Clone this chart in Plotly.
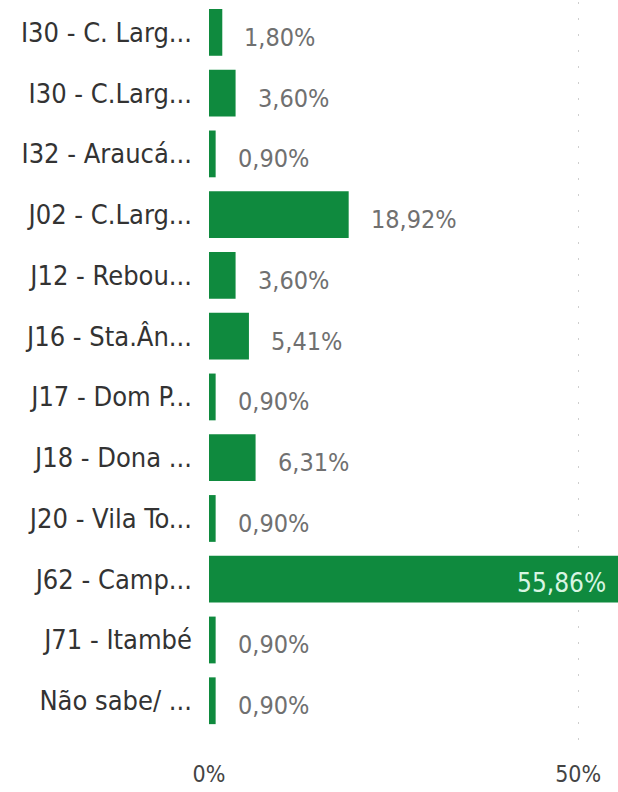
import plotly.graph_objects as go

categories = ["I30 - C. Larg...", "I30 - C.Larg...", "I32 - Araucá...", "J02 - C.Larg...",
              "J12 - Rebou...", "J16 - Sta.Ân...", "J17 - Dom P...", "J18 - Dona ...",
              "J20 - Vila To...", "J62 - Camp...", "J71 - Itambé", "Não sabe/ ..."]
values = [1.80, 3.60, 0.90, 18.92, 3.60, 5.41, 0.90, 6.31, 0.90, 55.86, 0.90, 0.90]
tick_vals = [0, 50]
tick_text = ["0%", "50%"]

FONT = "Liberation Sans Narrow, DejaVu Sans Condensed, Arial Narrow, sans-serif"
GREEN = "#0f8a3e"
XMAX = 55.4

def fmt(v):
    return f"{v:.2f}".replace(".", ",") + "%"

fig = go.Figure(go.Bar(
    y=categories, x=values, orientation="h",
    marker=dict(color=GREEN, line=dict(width=0)),
    hoverinfo="skip",
))

annotations = []
vmax = max(values)
for c, v in zip(categories, values):
    if v == vmax:
        annotations.append(dict(x=min(v, XMAX), y=c, xref="x", yref="y", text=fmt(v),
                                showarrow=False, xanchor="right", xshift=-10, yshift=-4,
                                font=dict(family=FONT, size=26, color="#d8f5e2")))
    else:
        annotations.append(dict(x=v, y=c, xref="x", yref="y", text=fmt(v),
                                showarrow=False, xanchor="left", xshift=20, yshift=-5,
                                font=dict(family=FONT, size=25, color="#707070")))

n = len(categories)
fig.update_layout(
    width=618, height=792,
    margin=dict(l=209, r=0, t=2, b=39),
    paper_bgcolor="white", plot_bgcolor="white",
    bargap=0.23,
    showlegend=False,
    annotations=annotations,
    font=dict(family=FONT),
    xaxis=dict(range=[0, XMAX], tickvals=tick_vals, ticktext=tick_text,
               automargin=False, ticklabelstandoff=5,
               showgrid=True, gridcolor="#cfcfcf", griddash="2px,14px", gridwidth=1,
               zeroline=False, showline=False, ticks="",
               tickfont=dict(family=FONT, size=23, color="#444444")),
    yaxis=dict(categoryorder="array", categoryarray=categories,
               range=[n - 0.5 + 0.36, -0.5], automargin=False,
               showgrid=False, zeroline=False, showline=False, ticks="",
               ticklabelstandoff=16,
               tickfont=dict(family=FONT, size=27, color="#333333")),
)

fig.write_html("out.html", config={"displayModeBar": False},
               post_script="document.body.style.margin='0';")
